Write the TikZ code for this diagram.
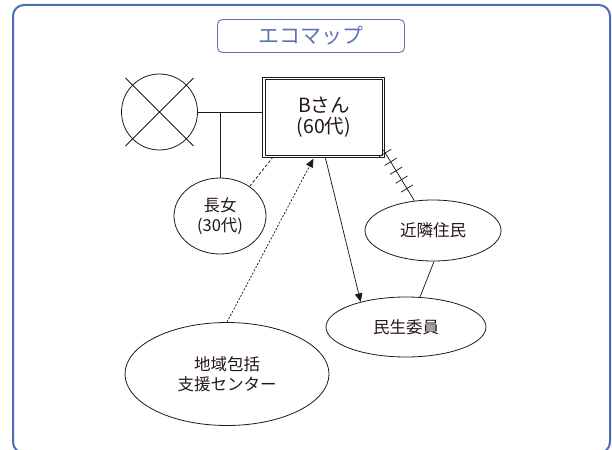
\documentclass[tikz,border=0pt]{standalone}
\usepackage{fontspec}
\setmainfont{Noto Sans CJK JP}
\usetikzlibrary{shapes.geometric,arrows.meta,decorations.markings}
\definecolor{frameblue}{RGB}{74,108,185}
\definecolor{titleblue}{RGB}{92,115,182}
\definecolor{ink}{RGB}{35,24,21}
\begin{document}
\begin{tikzpicture}[x=1pt,y=-1pt,line join=round]
\tikzset{
  conn/.style={draw=ink, line width=0.75pt},
  oval/.style={ellipse, draw=ink, line width=0.8pt, inner sep=0pt, align=center, text=ink, font=\fontsize{16.5}{20}\selectfont},
  tipa/.style={-{Triangle[length=8.5pt,width=7.5pt]}},
  hatch/.style={postaction={decorate}, decoration={markings,
     mark=between positions 0.06 and 0.8 step 0.175 with {\draw[ink, line width=0.75pt] (0pt,-7pt) -- (0pt,7pt);}}},
}
\useasboundingbox (0,0) rectangle (612,449);
\clip (0,0) rectangle (612,449);
\draw[frameblue, line width=2pt, rounded corners=11pt] (13,5) rectangle (610,453);
\node[draw=titleblue, line width=0.9pt, rounded corners=5pt, minimum width=187pt, minimum height=33pt, inner sep=0pt, text=titleblue, font=\fontsize{21}{24}\selectfont] (title) at (311,36) {エコマップ};

\node[circle, draw=ink, line width=0.8pt, minimum size=76pt, inner sep=0pt] (sp) at (159.5,112) {};
\draw[conn] ([shift={(-34,-34)}]sp.center) -- ([shift={(34,34)}]sp.center);
\draw[conn] ([shift={(-34,34)}]sp.center) -- ([shift={(34,-34)}]sp.center);

\node[draw=ink, line width=0.9pt, minimum width=122pt, minimum height=80pt, inner sep=0pt, align=center, text=ink, font=\fontsize{19.5}{21}\selectfont] (b) at (323.9,117.4) {Bさん\\(60代)};
\draw[ink, line width=0.7pt] ([shift={(2.6,2.8)}]b.north west) rectangle ([shift={(-3,-2.6)}]b.south east);

\node[oval, minimum width=92pt, minimum height=76pt] (dt) at (220,216) {長女\\(30代)};
\node[oval, minimum width=136pt, minimum height=61pt] (nb) at (433,230.5) {近隣住民};
\node[oval, minimum width=160pt, minimum height=60pt] (ms) at (406,327) {民生委員};
\node[oval, minimum width=204pt, minimum height=103pt] (ch) at (227,374) {地域包括\\支援センター};

\draw[conn] (sp.east) -- (sp.east -| b.west);
\draw[conn] (sp.east -| dt.north) -- (dt.north);
\draw[conn, dash pattern=on 3pt off 2pt] (dt.45) -- ([xshift=10pt]b.south west);
\draw[conn, tipa, dash pattern=on 2pt off 1.6pt, shorten >=1pt] (ch.north) -- ([xshift=-10pt]b.south);
\draw[conn, tipa] ([xshift=1.5pt]b.south) -- (ms.151);
\draw[conn] (nb.-88) -- (ms.65);
\draw[conn, hatch] ([shift={(-2,-8)}]b.south east) -- (nb.122);
\end{tikzpicture}
\end{document}
